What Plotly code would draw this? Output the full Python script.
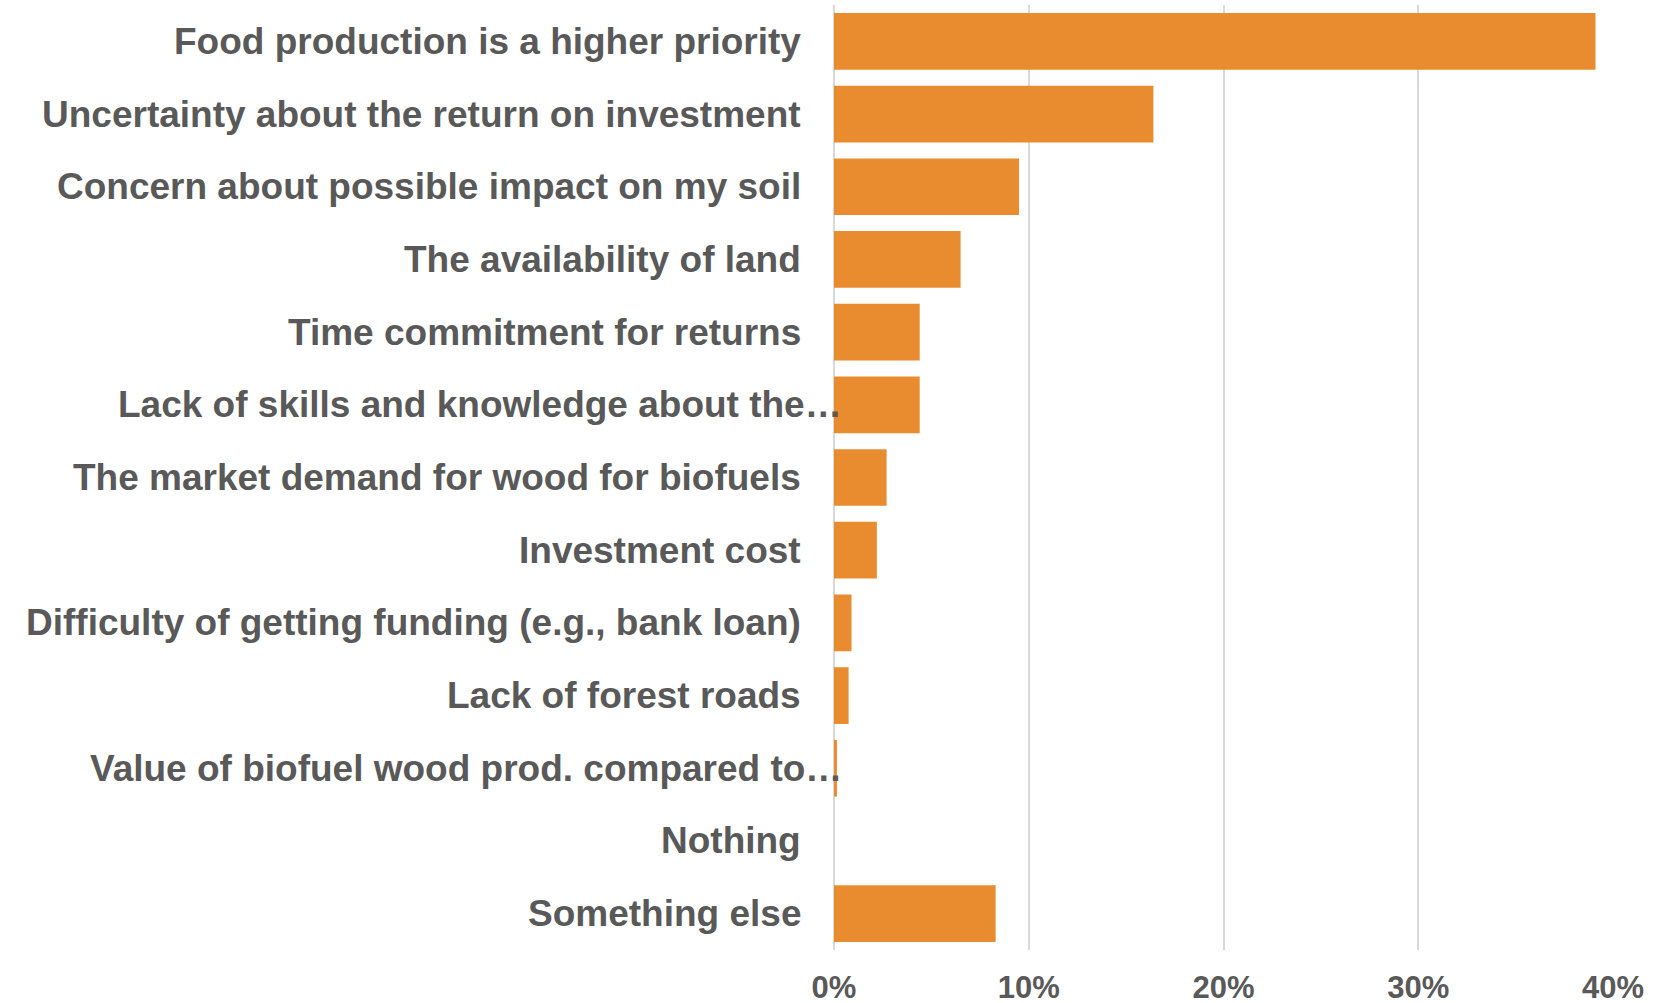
import plotly.graph_objects as go

# Reasons for not growing wood for biofuels (share of respondents)
categories = [
    "Food production is a higher priority",
    "Uncertainty about the return on investment",
    "Concern about possible impact on my soil",
    "The availability of land",
    "Time commitment for returns",
    "Lack of skills and knowledge about the\u2026",
    "The market demand for wood for biofuels",
    "Investment cost",
    "Difficulty of getting funding (e.g., bank loan)",
    "Lack of forest roads",
    "Value of biofuel wood prod. compared to\u2026",
    "Nothing",
    "Something else",
]
shares = [0.391, 0.164, 0.095, 0.065, 0.044, 0.044, 0.027, 0.022,
          0.009, 0.0075, 0.0015, 0.0, 0.083]

x_ticks = [0, 0.1, 0.2, 0.3, 0.4]
x_tick_labels = ["0%", "10%", "20%", "30%", "40%"]

TEXT_COLOR = "#595959"
BAR_COLOR = "#E98B2F"
GRID_COLOR = "#D9D9D9"
FONT = "Liberation Sans, Arial, sans-serif"

fig = go.Figure(
    go.Bar(
        x=shares,
        y=categories,
        orientation="h",
        marker=dict(color=BAR_COLOR, line=dict(width=0)),
        hoverinfo="x+y",
    )
)

# Category labels placed to the left of the axis; the truncated ones run
# slightly past the gutter, ending over the axis line.
for cat in categories:
    truncated = cat.endswith("\u2026")
    fig.add_annotation(
        x=0, xref="paper",
        y=cat, yref="y",
        text=f"<b>{cat}</b>",
        showarrow=False,
        xanchor="right",
        yanchor="middle",
        xshift=10 if truncated else -31,
        font=dict(family=FONT, size=37, color=TEXT_COLOR),
    )

fig.update_layout(
    template="none",
    width=1673,
    height=1003,
    margin=dict(l=834, r=59, t=5, b=53, pad=0),
    paper_bgcolor="white",
    plot_bgcolor="white",
    bargap=0.22,
    showlegend=False,
    font=dict(family=FONT, color=TEXT_COLOR),
)

fig.update_xaxes(
    range=[0, 0.4005],
    tickvals=x_ticks,
    ticktext=[f"<b>{t}</b>" for t in x_tick_labels],
    tickfont=dict(family=FONT, size=31, color=TEXT_COLOR),
    showgrid=True,
    gridcolor=GRID_COLOR,
    gridwidth=2,
    zeroline=True,
    zerolinecolor=GRID_COLOR,
    zerolinewidth=2,
    showline=False,
    ticks="",
    ticklabelstandoff=16,
    automargin=False,
    fixedrange=True,
)

fig.update_yaxes(
    categoryorder="array",
    categoryarray=categories,
    autorange="reversed",
    showticklabels=False,
    showgrid=False,
    zeroline=False,
    showline=False,
    ticks="",
    automargin=False,
    fixedrange=True,
)

fig.write_html("out.html")
